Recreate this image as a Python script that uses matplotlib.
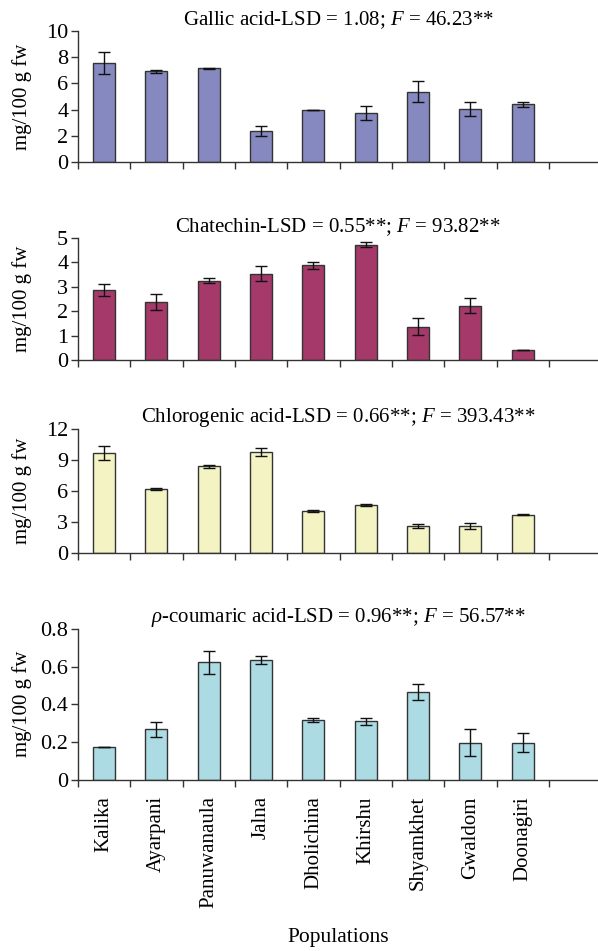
import numpy as np
import matplotlib
matplotlib.use("Agg")
import matplotlib.pyplot as plt
from matplotlib.ticker import FuncFormatter

plt.rcParams["font.family"] = ["Liberation Serif", "DejaVu Serif"]
plt.rcParams["mathtext.fontset"] = "custom"
plt.rcParams["mathtext.rm"] = "Liberation Serif"
plt.rcParams["mathtext.it"] = "Liberation Serif:italic"

populations = ["Kalika", "Ayarpani", "Panuwanaula", "Jalna", "Dholichina",
               "Khirshu", "Shyamkhet", "Gwaldom", "Doonagiri"]

gallic = [7.58, 6.92, 7.14, 2.35, 4.0, 3.72, 5.35, 4.03, 4.39]
gallic_err = [0.85, 0.1, 0.05, 0.38, 0.0, 0.52, 0.8, 0.53, 0.18]

catechin = [2.87, 2.38, 3.25, 3.54, 3.89, 4.72, 1.36, 2.23, 0.39]
catechin_err = [0.25, 0.32, 0.1, 0.3, 0.14, 0.1, 0.35, 0.31, 0.0]

chlorogenic = [9.68, 6.2, 8.38, 9.78, 4.05, 4.62, 2.6, 2.62, 3.7]
chlorogenic_err = [0.68, 0.12, 0.18, 0.35, 0.08, 0.07, 0.17, 0.29, 0.05]

coumaric = [0.171, 0.266, 0.622, 0.636, 0.316, 0.309, 0.467, 0.196, 0.196]
coumaric_err = [0.0, 0.042, 0.063, 0.02, 0.01, 0.018, 0.042, 0.071, 0.049]

titles = ["Gallic acid-LSD = 1.08; $F$ = 46.23**",
          "Chatechin-LSD = 0.55**; $F$ = 93.82**",
          "Chlorogenic acid-LSD = 0.66**; $F$ = 393.43**",
          r"$\rho$-coumaric acid-LSD = 0.96**; $F$ = 56.57**"]
series = [(gallic, gallic_err), (catechin, catechin_err),
          (chlorogenic, chlorogenic_err), (coumaric, coumaric_err)]
ylims = [(10, 2), (5, 1), (12, 3), (0.8, 0.2)]
colors = ["#8689bf", "#a5396a", "#f3f3c3", "#acdbe4"]

# axes boxes in figure fraction (left, bottom, width, height)
boxes = [(0.1304, 0.8297, 0.8696, 0.1377),
         (0.1304, 0.6215, 0.8696, 0.1282),
         (0.1304, 0.4190, 0.8696, 0.1296),
         (0.1304, 0.1803, 0.8696, 0.1583)]

fig = plt.figure(figsize=(5.98, 9.51), dpi=100)
x = np.arange(len(populations))
for i, ((vals, errs), box) in enumerate(zip(series, boxes)):
    ax = fig.add_axes(box)
    ax.bar(x, vals, width=0.42, color=colors[i], edgecolor="#333333", linewidth=1.0, zorder=2)
    ax.errorbar(x, vals, yerr=errs, fmt="none", ecolor="#111111", elinewidth=1.0,
                capsize=4, capthick=1.0, zorder=3)
    top, step = ylims[i]
    ax.set_ylim(0, top)
    ax.set_yticks(np.arange(0, top + step / 2, step))
    ax.yaxis.set_major_formatter(FuncFormatter(lambda v, p: "%g" % round(v, 2)))
    ax.set_xlim(-0.5, 9.44)
    ax.set_xticks(x)
    ax.set_xticks(np.arange(-0.5, 9.0, 1.0), minor=True)
    ax.tick_params(axis="x", which="major", length=0)
    ax.tick_params(axis="x", which="minor", length=5, width=1, color="#333333", direction="out")
    ax.tick_params(axis="y", length=5, width=1, color="#333333", direction="out",
                   labelsize=16, pad=2)
    if i == 3:
        ax.set_xticklabels(populations, rotation=90, fontsize=15, va="top")
        ax.tick_params(axis="x", which="major", pad=12)
    else:
        ax.set_xticklabels([])
    for s in ("top", "right"):
        ax.spines[s].set_visible(False)
    for s in ("left", "bottom"):
        ax.spines[s].set_color("#333333")
        ax.spines[s].set_linewidth(1.0)
    ax.set_ylabel("mg/100 g fw", fontsize=15)
    ax.yaxis.set_label_coords(-0.088, 0.5)
    ax.set_title(titles[i], fontsize=15, pad=3)

fig.text(0.565, 0.0147, "Populations", ha="center", va="center", fontsize=15.5)
fig.savefig("out.png", dpi=100)
